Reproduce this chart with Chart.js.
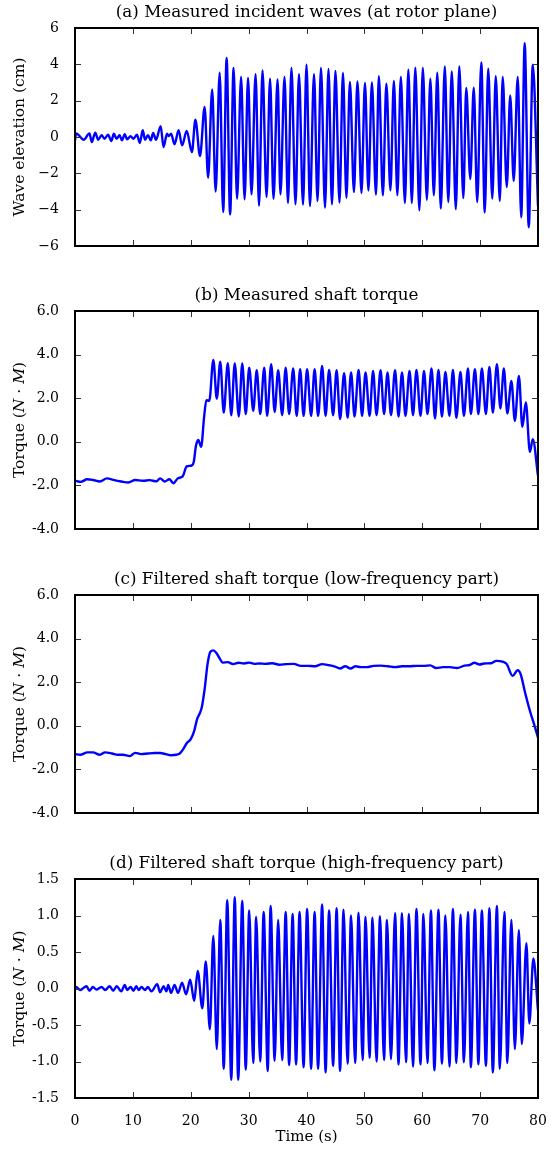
<!DOCTYPE html>
<html>
<head>
<meta charset="utf-8">
<script src="https://cdn.jsdelivr.net/npm/chart.js@4.4.1/dist/chart.umd.min.js"></script>
<style>
  body { margin: 0; background: #fff; }
  canvas { position: absolute; left: 0; }
</style>
</head>
<body>
<canvas id="pa" width="555" height="263" style="top:0px"></canvas>
<canvas id="pb" width="555" height="263" style="top:283px"></canvas>
<canvas id="pc" width="555" height="263" style="top:567px"></canvas>
<canvas id="pd" width="555" height="298" style="top:851px"></canvas>
<script>
// (a) measured incident waves, cm
const timeA = [0.0, 0.2, 1.5, 2.5, 2.9, 3.5, 4.0, 4.6, 5.1, 5.7, 6.3, 6.7, 7.2, 7.7, 8.1, 8.6, 9.0, 9.6, 10.1, 10.7,
  11.2, 11.7, 12.1, 12.6, 13.1, 13.5, 14.0, 14.8, 15.3, 15.9, 16.2, 16.6, 17.2, 17.9, 18.5, 19.3, 20.2, 20.8, 21.6, 22.4,
  23.0, 23.7, 24.3, 25.0, 25.6, 26.2, 26.8, 27.4, 28.0, 28.7, 29.3, 29.9, 30.5, 31.2, 31.8, 32.4, 33.1, 33.7, 34.3, 35.0,
  35.5, 36.2, 36.8, 37.4, 38.1, 38.7, 39.4, 40.0, 40.6, 41.3, 41.9, 42.5, 43.2, 43.8, 44.4, 45.0, 45.7, 46.3, 46.9, 47.5,
  48.2, 48.8, 49.5, 50.1, 50.7, 51.3, 52.0, 52.5, 53.2, 53.8, 54.5, 55.1, 55.7, 56.3, 57.0, 57.6, 58.2, 58.8, 59.5, 60.1,
  60.8, 61.4, 62.0, 62.6, 63.2, 63.9, 64.5, 65.1, 65.8, 66.4, 67.1, 67.6, 68.3, 68.9, 69.5, 70.2, 70.8, 71.4, 72.1, 72.7,
  73.4, 73.9, 74.6, 75.2, 75.8, 76.5, 77.1, 77.7, 78.4, 79.1, 80.0];
const waveA = [-0.2, 0.2, -0.15, 0.2, -0.28, 0.24, -0.15, 0.1, -0.1, 0.13, -0.22, 0.18, -0.1, 0.1, -0.18, 0.15, -0.13, 0.04, -0.1, 0.13,
  -0.33, 0.37, -0.15, 0.1, -0.18, 0.22, -0.15, 0.6, -0.55, 0.18, 0.05, 0.18, -0.4, 0.37, -0.46, 0.33, -0.83, 0.95, -1.05, 1.65,
  -2.24, 2.62, -3.0, 3.54, -4.13, 4.35, -4.26, 3.8, -3.4, 3.3, -3.43, 3.25, -3.16, 3.45, -3.78, 3.67, -3.3, 3.21, -3.4, 3.17,
  -3.16, 3.3, -3.63, 3.8, -3.7, 3.45, -3.72, 3.98, -3.8, 3.45, -3.52, 3.8, -3.89, 3.74, -3.7, 3.63, -3.61, 3.52, -3.34, 3.03,
  -3.03, 3.06, -3.08, 2.97, -2.94, 3.0, -3.17, 3.34, -3.21, 2.94, -2.94, 3.08, -3.21, 3.3, -3.63, 3.7, -3.63, 3.82, -4.04, 3.8,
  -3.45, 3.21, -3.21, 3.54, -3.94, 3.89, -3.58, 3.61, -3.98, 3.89, -3.36, 2.7, -2.31, 2.72, -3.58, 4.11, -4.15, 3.76, -3.39, 3.34,
  -3.52, 3.3, -2.75, 2.29, -2.42, 3.3, -4.42, 5.17, -4.97, 3.98, -3.8];

// (b) measured shaft torque, N·M
const timeB = [0.0, 0.5, 1.0, 2.1, 3.1, 4.3, 5.5, 6.8, 8.0, 9.2, 10.4, 11.7, 12.9, 14.1, 14.7, 15.5, 16.3, 17.0, 17.8, 18.6,
  19.3, 20.0, 20.5, 20.9, 21.3, 21.8, 22.3, 22.7, 23.2, 23.9, 24.5, 25.1, 25.7, 26.4, 27.0, 27.6, 28.3, 28.9, 29.5, 30.1,
  30.8, 31.4, 32.0, 32.7, 33.2, 33.9, 34.5, 35.1, 35.8, 36.4, 37.0, 37.7, 38.3, 38.9, 39.5, 40.1, 40.8, 41.4, 42.0, 42.7,
  43.3, 43.9, 44.6, 45.2, 45.8, 46.5, 47.1, 47.7, 48.3, 49.0, 49.6, 50.2, 50.9, 51.5, 52.1, 52.8, 53.4, 54.0, 54.6, 55.3,
  55.9, 56.5, 57.1, 57.8, 58.4, 59.0, 59.7, 60.3, 60.9, 61.6, 62.2, 62.8, 63.4, 64.0, 64.7, 65.3, 65.9, 66.6, 67.2, 67.9,
  68.4, 69.1, 69.7, 70.3, 71.0, 71.6, 72.2, 72.9, 73.5, 74.1, 74.7, 75.4, 76.0, 76.7, 77.3, 77.9, 78.6, 79.1, 80.0];
const torqueB = [-1.78, -1.82, -1.84, -1.72, -1.75, -1.82, -1.68, -1.76, -1.82, -1.87, -1.75, -1.79, -1.76, -1.81, -1.68, -1.82, -1.72, -1.9, -1.67, -1.59,
  -1.13, -1.1, -0.95, -0.18, 0.08, -0.23, 1.12, 1.91, 1.88, 3.76, 1.98, 3.68, 1.34, 3.6, 1.22, 3.59, 1.16, 3.59, 1.27, 3.4,
  1.42, 3.28, 1.27, 3.4, 1.19, 3.56, 1.37, 3.28, 1.22, 3.4, 1.27, 3.37, 1.19, 3.33, 1.19, 3.33, 1.19, 3.33, 1.19, 3.48,
  1.19, 3.3, 1.22, 3.28, 1.04, 3.15, 1.11, 3.18, 1.16, 3.3, 1.19, 3.18, 1.19, 3.25, 1.22, 3.28, 1.27, 3.18, 1.22, 3.28,
  1.16, 3.18, 1.19, 3.25, 1.22, 3.3, 1.19, 3.25, 1.27, 3.36, 1.07, 3.3, 1.16, 3.2, 1.19, 3.3, 1.1, 3.2, 1.19, 3.37,
  1.27, 3.33, 1.27, 3.37, 1.27, 3.43, 1.34, 3.56, 1.53, 3.36, 1.3, 2.79, 0.96, 3.02, 0.69, 1.8, -0.46, 0.12, -1.55];

// (c) filtered shaft torque, low-frequency part
const timeC = [0.0, 0.9, 2.15, 3.1, 4.3, 5.2, 6.4, 7.4, 8.3, 9.5, 10.4, 11.4, 12.6, 13.8, 14.7, 15.7, 16.6, 17.5, 18.1, 18.7,
  19.3, 20.0, 20.6, 21.1, 21.5, 21.9, 22.4, 22.9, 23.4, 23.9, 24.4, 25.0, 25.5, 26.4, 27.3, 28.3, 29.2, 30.1, 31.0, 31.9,
  32.9, 34.1, 35.3, 36.5, 37.8, 39.0, 40.2, 41.5, 42.7, 43.9, 44.8, 45.8, 46.7, 47.6, 48.5, 49.4, 50.4, 51.6, 52.8, 54.1,
  55.3, 56.5, 57.8, 59.0, 60.2, 61.4, 62.4, 63.6, 64.8, 66.0, 67.3, 68.2, 69.0, 69.9, 70.7, 71.9, 72.8, 74.0, 74.6, 75.6,
  76.5, 77.0, 77.7, 78.6, 79.5, 80.0];
const torqueC = [-1.3, -1.33, -1.22, -1.22, -1.33, -1.22, -1.27, -1.33, -1.33, -1.39, -1.24, -1.3, -1.27, -1.25, -1.25, -1.3, -1.35, -1.33, -1.27, -1.07,
  -0.8, -0.61, -0.23, 0.31, 0.54, 0.84, 1.68, 2.83, 3.4, 3.46, 3.35, 3.09, 2.9, 2.92, 2.83, 2.89, 2.86, 2.9, 2.84, 2.86,
  2.84, 2.87, 2.8, 2.83, 2.84, 2.75, 2.75, 2.73, 2.83, 2.78, 2.73, 2.63, 2.73, 2.63, 2.73, 2.69, 2.69, 2.75, 2.76, 2.73,
  2.69, 2.73, 2.73, 2.75, 2.75, 2.77, 2.65, 2.69, 2.69, 2.65, 2.76, 2.79, 2.89, 2.81, 2.86, 2.87, 2.98, 2.93, 2.83, 2.29,
  2.55, 2.37, 1.6, 0.69, -0.08, -0.54];

// (d) filtered shaft torque, high-frequency part
const timeD = [0.0, 0.2, 0.9, 1.5, 2.0, 2.5, 3.1, 3.7, 4.6, 5.2, 6.0, 6.6, 7.2, 8.0, 8.6, 9.0, 9.6, 10.1, 10.6, 11.0,
  11.5, 12.1, 12.6, 13.2, 14.2, 14.7, 15.3, 15.8, 16.1, 16.6, 17.2, 17.8, 18.5, 19.2, 19.9, 20.6, 21.2, 22.0, 22.6, 23.3,
  23.9, 24.5, 25.1, 25.7, 26.3, 27.0, 27.6, 28.2, 28.9, 29.5, 30.1, 30.8, 31.3, 32.0, 32.6, 33.3, 33.8, 34.5, 35.1, 35.8,
  36.4, 37.0, 37.6, 38.2, 38.8, 39.5, 40.1, 40.8, 41.4, 42.0, 42.7, 43.3, 43.9, 44.6, 45.2, 45.8, 46.4, 47.1, 47.7, 48.4,
  49.0, 49.7, 50.2, 50.9, 51.4, 52.1, 52.7, 53.4, 53.9, 54.6, 55.3, 55.9, 56.5, 57.2, 57.7, 58.4, 59.0, 59.7, 60.2, 60.9,
  61.5, 62.1, 62.8, 63.4, 64.0, 64.7, 65.3, 65.9, 66.6, 67.2, 67.9, 68.4, 69.1, 69.7, 70.3, 71.0, 71.6, 72.2, 72.9, 73.4,
  74.2, 74.7, 75.4, 76.0, 76.7, 77.2, 78.0, 78.5, 79.2, 80.0];
const torqueD = [0.0, 0.02, -0.02, 0.01, 0.03, -0.03, 0.02, -0.015, 0.02, -0.02, 0.03, -0.03, 0.03, -0.04, 0.05, -0.02, 0.02, -0.03, 0.03, -0.02,
  0.02, -0.02, 0.02, -0.04, 0.06, -0.05, 0.03, -0.04, 0.05, -0.06, 0.05, -0.06, 0.08, -0.08, 0.12, -0.17, 0.24, -0.27, 0.37, -0.56,
  0.72, -0.83, 0.94, -1.1, 1.21, -1.25, 1.25, -1.25, 1.2, -1.11, 1.07, -1.02, 0.98, -1.0, 1.05, -1.13, 1.13, -0.99, 0.94, -0.98,
  1.05, -1.05, 1.02, -1.04, 1.05, -1.08, 1.09, -1.1, 1.05, -1.1, 1.15, -1.15, 1.07, -1.06, 1.1, -1.13, 1.08, -1.03, 1.0, -1.02,
  1.04, -0.98, 0.98, -0.95, 0.97, -1.0, 0.99, -0.98, 0.94, -0.97, 1.03, -1.04, 1.03, -1.01, 1.02, -1.07, 1.09, -1.04, 1.02, -1.02,
  1.07, -1.12, 1.08, -1.03, 1.0, -1.07, 1.09, -1.02, 1.01, -1.01, 1.05, -1.08, 1.08, -1.04, 1.07, -1.06, 1.1, -1.15, 1.13, -1.1,
  1.05, -1.02, 0.94, -0.83, 0.8, -0.76, 0.62, -0.48, 0.41, -0.3];

const xTickMarks = [10, 20, 30, 40, 50, 60, 70];
const SERIF = '"DejaVu Serif", "Liberation Serif", serif';

// matplotlib-ish frame: inward ticks on all sides, title, y label with italic parts
const panelFrame = {
  id: 'panelFrame',
  afterDraw(chart, args, opts) {
    const { ctx, chartArea: a, scales: { x, y } } = chart;
    ctx.save();
    ctx.strokeStyle = '#333';
    ctx.lineWidth = 1;
    ctx.beginPath();
    xTickMarks.forEach(v => {
      const px = Math.round(x.getPixelForValue(v)) + 0.5;
      ctx.moveTo(px, a.top); ctx.lineTo(px, a.top + 6);
      ctx.moveTo(px, a.bottom); ctx.lineTo(px, a.bottom - 6);
    });
    y.ticks.forEach(t => {
      const py = Math.round(y.getPixelForValue(t.value)) + 0.5;
      ctx.moveTo(a.left, py); ctx.lineTo(a.left + 6, py);
      ctx.moveTo(a.right, py); ctx.lineTo(a.right - 6, py);
    });
    ctx.stroke();
    ctx.strokeStyle = '#000';
    ctx.lineWidth = 2;
    ctx.strokeRect(a.left, a.top, a.right - a.left, a.bottom - a.top);

    ctx.fillStyle = '#000';
    ctx.textBaseline = 'middle';
    ctx.textAlign = 'center';
    ctx.font = '16.8px ' + SERIF;
    ctx.fillText(opts.title, (a.left + a.right) / 2, a.top - 15);

    if (opts.xLabel) {
      ctx.font = '15px ' + SERIF;
      ctx.fillText(opts.xLabel, (a.left + a.right) / 2, a.bottom + 39);
    }

    // rotated y label, parts may be italic
    ctx.translate(20, (a.top + a.bottom) / 2);
    ctx.rotate(-Math.PI / 2);
    ctx.textAlign = 'left';
    let total = 0;
    opts.yLabel.forEach(p => {
      ctx.font = (p[1] ? 'italic ' : '') + '15.5px ' + SERIF;
      total += ctx.measureText(p[0]).width;
    });
    let cx = -total / 2;
    opts.yLabel.forEach(p => {
      ctx.font = (p[1] ? 'italic ' : '') + '15.5px ' + SERIF;
      ctx.fillText(p[0], cx, 0);
      cx += ctx.measureText(p[0]).width;
    });
    ctx.restore();
  }
};

const torqueLabel = [['Torque (', false], ['N', true], [' \u00b7 ', false], ['M', true], [')', false]];

function makePanel(id, ts, vs, cfg) {
  return new Chart(document.getElementById(id), {
    type: 'line',
    data: {
      datasets: [{
        data: ts.map((t, i) => ({ x: t, y: vs[i] })),
        borderColor: '#0000ff',
        borderWidth: 2.4,
        pointRadius: 0,
        cubicInterpolationMode: 'monotone',
        fill: false
      }]
    },
    options: {
      responsive: false,
      animation: false,
      layout: { padding: { top: 28, right: 17, bottom: cfg.bottom, left: 0 } },
      plugins: {
        legend: { display: false },
        tooltip: { enabled: false },
        panelFrame: { title: cfg.title, yLabel: cfg.yLabel, xLabel: cfg.xLabel }
      },
      scales: {
        x: {
          type: 'linear', min: 0, max: 80,
          display: cfg.showX,
          grid: { display: false },
          border: { display: false },
          ticks: { stepSize: 10, padding: 7, color: '#000', font: { family: SERIF, size: 14 } },
          afterFit: s => { s.height = cfg.xHeight; }
        },
        y: {
          min: cfg.min, max: cfg.max,
          grid: { display: false },
          border: { display: false },
          ticks: { stepSize: cfg.step, padding: 8, color: '#000', font: { family: SERIF, size: 14 }, callback: cfg.fmt },
          afterFit: s => { s.width = 75; }
        }
      }
    },
    plugins: [panelFrame]
  });
}

makePanel('pa', timeA, waveA, {
  title: '(a) Measured incident waves (at rotor plane)',
  yLabel: [['Wave elevation (cm)', false]],
  min: -6, max: 6, step: 2, bottom: 17, showX: false, xHeight: 0,
  fmt: v => String(v).replace('-', '\u2212')
});
makePanel('pb', timeB, torqueB, {
  title: '(b) Measured shaft torque',
  yLabel: torqueLabel,
  min: -4, max: 6, step: 2, bottom: 17, showX: false, xHeight: 0,
  fmt: v => v.toFixed(1)
});
makePanel('pc', timeC, torqueC, {
  title: '(c) Filtered shaft torque (low-frequency part)',
  yLabel: torqueLabel,
  min: -4, max: 6, step: 2, bottom: 17, showX: false, xHeight: 0,
  fmt: v => v.toFixed(1)
});
makePanel('pd', timeD, torqueD, {
  title: '(d) Filtered shaft torque (high-frequency part)',
  yLabel: torqueLabel, xLabel: 'Time (s)',
  min: -1.5, max: 1.5, step: 0.5, bottom: 0, showX: true, xHeight: 51,
  fmt: v => v.toFixed(1)
});
</script>
</body>
</html>
